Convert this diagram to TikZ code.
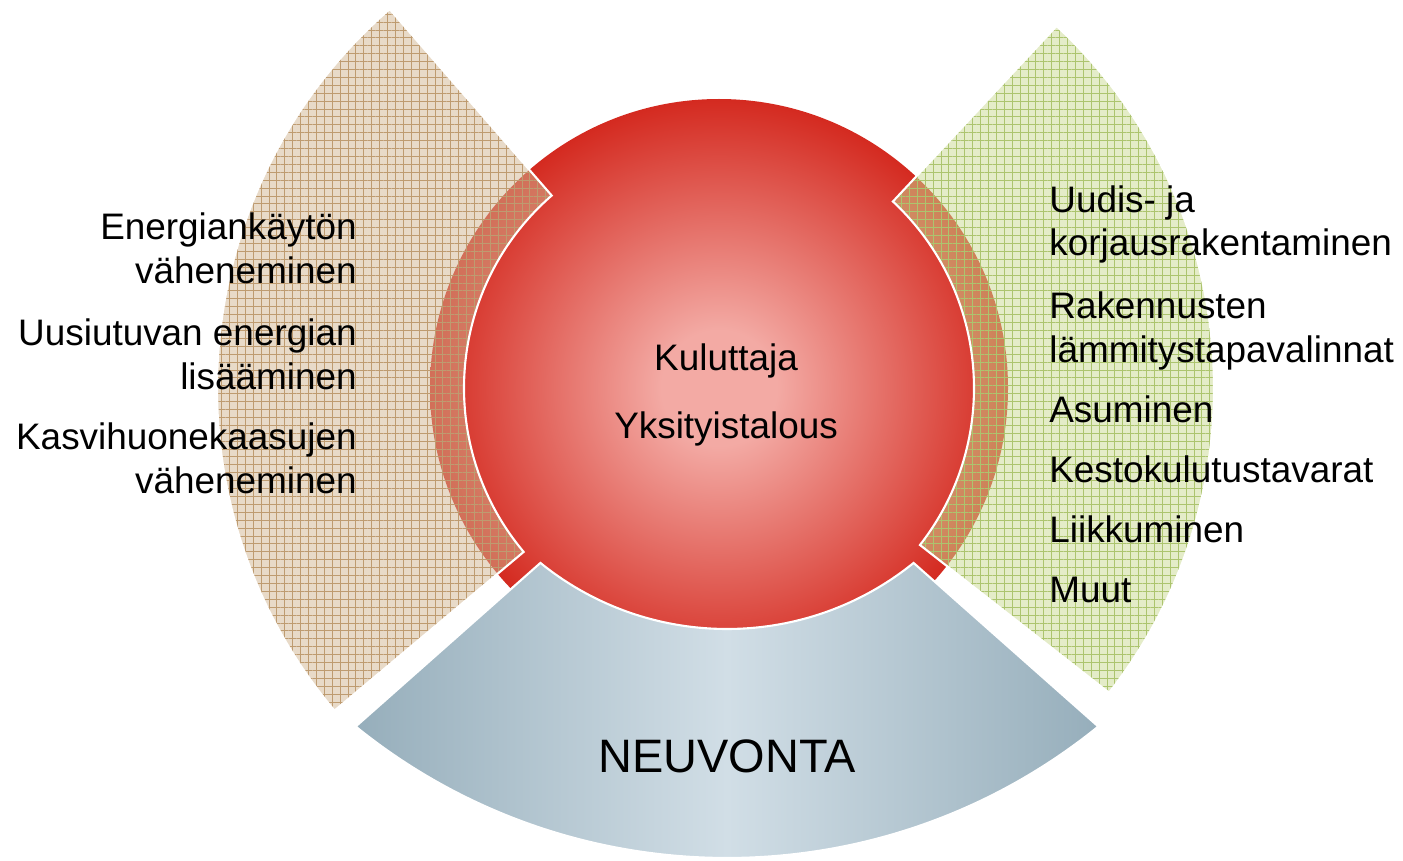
\documentclass[tikz,border=0pt]{standalone}
\usepackage{fontspec}
\setmainfont{Liberation Sans}
\usepackage{tikz}
\usetikzlibrary{patterns.meta}
\definecolor{redout}{RGB}{212,42,32}
\definecolor{redin}{RGB}{243,170,164}
\definecolor{beigefill}{RGB}{209,181,145}
\definecolor{beigeline}{RGB}{190,155,112}
\definecolor{greenfill}{RGB}{201,217,145}
\definecolor{greenline}{RGB}{172,196,110}
\definecolor{blueout}{RGB}{150,174,187}
\definecolor{bluein}{RGB}{209,222,230}
\pgfdeclareradialshading{redball}{\pgfpoint{0bp}{0bp}}{color(0bp)=(redin); color(5bp)=(redin); color(25bp)=(redout); color(50bp)=(redout)}
\pgfdeclarehorizontalshading{bluebar}{100bp}{color(0bp)=(blueout); color(25bp)=(blueout); color(50bp)=(bluein); color(75bp)=(blueout); color(100bp)=(blueout)}
\tikzstyle{lefttext} = [anchor=base east, align=right, inner sep=0pt,
    font=\fontsize{21}{25}\selectfont]
\tikzstyle{righttext} = [anchor=base west, align=left, inner sep=0pt,
    font=\fontsize{21}{25}\selectfont]
\tikzstyle{centertext} = [anchor=base, align=center, inner sep=0pt,
    font=\fontsize{21}{38.7}\selectfont]
\tikzstyle{arcfill} = [fill opacity=0.5]
\tikzstyle{grid} = [pattern={Hatch[distance=4.5pt, angle=0, line width=0.35pt]}, fill opacity=0.4]
\tikzstyle{edge} = [draw=white, line width=1.2pt, line join=miter]
\newcommand{\beigeband}{([shift={(131:255)}]hub) -- ([shift={(131:502)}]hub)
    arc [start angle=131, end angle=220, radius=502] -- ([shift={(220:255)}]hub)
    arc [start angle=220, end angle=131, radius=255] -- cycle}
\newcommand{\greenband}{([shift={(-38:255)}]hub) -- ([shift={(-38:495)}]hub)
    arc [start angle=-38, end angle=47, radius=495] -- ([shift={(47:255)}]hub)
    arc [start angle=47, end angle=-38, radius=255] -- cycle}
\newcommand{\blueband}{([shift={(231:590)}]bouter)
    arc [start angle=231, end angle=309, radius=590] -- ([shift={(309:296.5)}]binner)
    arc [start angle=309, end angle=231, radius=296.5] -- cycle}
\begin{document}
\begin{tikzpicture}[x=0.02cm, y=0.02cm]
    \useasboundingbox (0,0) rectangle (1403,860);
    \coordinate (hub) at (719,472);
    \coordinate (binner) at (727,527.5);
    \coordinate (bouter) at (727,592);
    \shade [shading=redball] (hub) circle (289);
    \fill [beigefill, arcfill] \beigeband;
    \fill [grid, pattern color=beigeline] \beigeband;
    \draw [edge] \beigeband;
    \fill [greenfill, arcfill] \greenband;
    \fill [grid, pattern color=greenline] \greenband;
    \draw [edge] \greenband;
    \shade [shading=bluebar] \blueband;
    \draw [edge] \blueband;
    \node [lefttext] at (357,577) (energia) {Energiankäytön\\väheneminen};
    \node [lefttext] at (357,471) (uusiutuva) {Uusiutuvan energian\\lisääminen};
    \node [lefttext] at (357,367) (kasvihuone) {Kasvihuonekaasujen\\väheneminen};
    \node [righttext] at (1049,604) (rakentaminen) {Uudis- ja\\korjausrakentaminen};
    \node [righttext] at (1049,498) (lammitys) {Rakennusten\\lämmitystapavalinnat};
    \node [righttext] at (1049,438) (asuminen) {Asuminen};
    \node [righttext] at (1049,378) (kesto) {Kestokulutustavarat};
    \node [righttext] at (1049,318) (liikkuminen) {Liikkuminen};
    \node [righttext] at (1049,258) (muut) {Muut};
    \node [centertext] at (726,422) (kuluttaja) {Kuluttaja\\Yksityistalous};
    \node [anchor=base, inner sep=0pt, font=\fontsize{26.7}{32}\selectfont] at (727,88) (neuvonta) {NEUVONTA};
\end{tikzpicture}
\end{document}
